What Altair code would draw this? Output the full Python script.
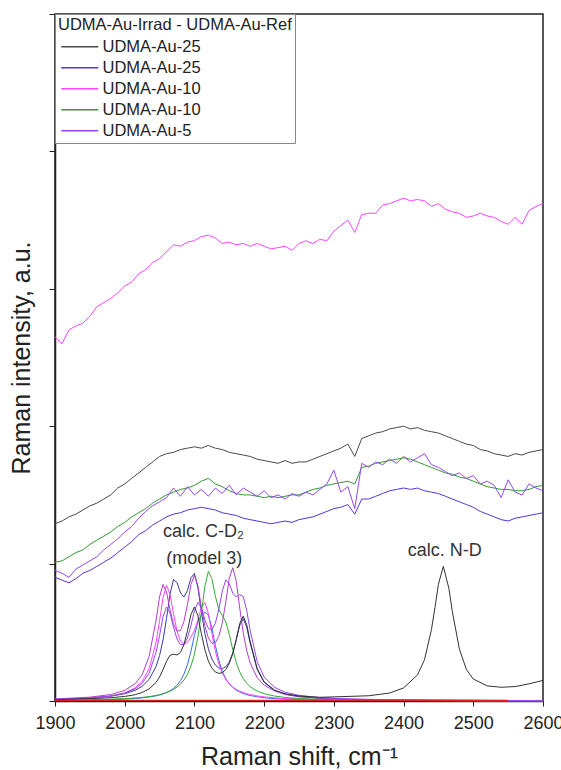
import altair as alt
import pandas as pd

# ---------------- data ----------------
wn_exp = list(range(1900, 2601, 10))

exp_black = [1.29, 1.31, 1.34, 1.36, 1.39, 1.42, 1.44, 1.47, 1.50, 1.55,
             1.58, 1.62, 1.66, 1.70, 1.74, 1.78, 1.80, 1.81, 1.83, 1.84,
             1.85, 1.84, 1.86, 1.84, 1.83, 1.81, 1.80, 1.79, 1.78, 1.76,
             1.75, 1.74, 1.73, 1.75, 1.73, 1.74, 1.74, 1.76, 1.78, 1.80,
             1.82, 1.84, 1.87, 1.78, 1.91, 1.93, 1.95, 1.96, 1.98, 1.99,
             2.00, 1.98, 1.99, 1.97, 1.96, 1.95, 1.93, 1.91, 1.89, 1.87,
             1.86, 1.83, 1.82, 1.80, 1.79, 1.78, 1.80, 1.79, 1.81, 1.82,
             1.83]
exp_blue = [0.90, 0.88, 0.86, 0.89, 0.93, 0.95, 0.98, 1.01, 1.04, 1.08,
            1.12, 1.16, 1.21, 1.24, 1.28, 1.31, 1.34, 1.36, 1.37, 1.39,
            1.40, 1.41, 1.40, 1.39, 1.37, 1.36, 1.35, 1.33, 1.32, 1.31,
            1.30, 1.29, 1.30, 1.31, 1.30, 1.32, 1.33, 1.34, 1.36, 1.38,
            1.40, 1.41, 1.43, 1.36, 1.47, 1.47, 1.49, 1.51, 1.53, 1.54,
            1.55, 1.54, 1.55, 1.53, 1.52, 1.51, 1.49, 1.47, 1.45, 1.43,
            1.41, 1.38, 1.36, 1.34, 1.32, 1.31, 1.33, 1.34, 1.35, 1.36,
            1.37]
exp_magenta = [2.65, 2.60, 2.70, 2.73, 2.75, 2.80, 2.87, 2.90, 2.93, 2.97,
               3.02, 3.05, 3.11, 3.14, 3.19, 3.22, 3.27, 3.32, 3.31, 3.34,
               3.35, 3.38, 3.39, 3.37, 3.33, 3.34, 3.32, 3.33, 3.31, 3.33,
               3.31, 3.29, 3.30, 3.31, 3.28, 3.33, 3.35, 3.33, 3.36, 3.35,
               3.42, 3.46, 3.50, 3.41, 3.54, 3.55, 3.55, 3.61, 3.62, 3.64,
               3.66, 3.64, 3.65, 3.64, 3.60, 3.62, 3.58, 3.56, 3.55, 3.52,
               3.53, 3.55, 3.53, 3.52, 3.49, 3.47, 3.52, 3.47, 3.57, 3.60,
               3.62]
exp_green = [1.01, 1.02, 1.05, 1.08, 1.10, 1.14, 1.17, 1.20, 1.23, 1.27,
             1.30, 1.34, 1.37, 1.40, 1.44, 1.47, 1.50, 1.52, 1.54, 1.55,
             1.57, 1.60, 1.62, 1.58, 1.56, 1.53, 1.51, 1.50, 1.50, 1.49,
             1.48, 1.49, 1.48, 1.49, 1.50, 1.50, 1.52, 1.54, 1.55, 1.57,
             1.58, 1.59, 1.60, 1.58, 1.70, 1.71, 1.73, 1.74, 1.75, 1.76,
             1.77, 1.76, 1.74, 1.72, 1.70, 1.68, 1.66, 1.65, 1.63, 1.62,
             1.60, 1.58, 1.56, 1.55, 1.54, 1.54, 1.53, 1.53, 1.54, 1.56,
             1.57]
exp_violet = [0.95, 0.93, 0.90, 0.96, 0.99, 1.02, 1.05, 1.10, 1.14, 1.18,
              1.23, 1.27, 1.33, 1.38, 1.42, 1.45, 1.48, 1.55, 1.49, 1.56,
              1.50, 1.54, 1.49, 1.55, 1.51, 1.57, 1.50, 1.55, 1.52, 1.49,
              1.53, 1.48, 1.50, 1.47, 1.51, 1.49, 1.52, 1.50, 1.54, 1.58,
              1.68, 1.52, 1.56, 1.40, 1.73, 1.70, 1.74, 1.72, 1.76, 1.73,
              1.78, 1.74, 1.77, 1.80, 1.72, 1.70, 1.67, 1.64, 1.66, 1.62,
              1.64, 1.58, 1.60, 1.57, 1.48, 1.61, 1.52, 1.50, 1.58, 1.55,
              1.53]

legend_keys = ["k1", "k2", "k3", "k4", "k5"]
legend_names = ["UDMA-Au-25", "UDMA-Au-25", "UDMA-Au-10", "UDMA-Au-10", "UDMA-Au-5"]
legend_colors = ["#4a4a4a", "#5533dd", "#ff44ff", "#339933", "#9347f5"]
exp_series = [exp_black, exp_blue, exp_magenta, exp_green, exp_violet]

# calculated spectra (model 3) on a common grid
wn_calc = [1900, 1950, 1980, 2000, 2015, 2025, 2035, 2045,
           2050, 2055, 2060, 2065, 2070, 2075, 2080, 2085, 2090, 2095,
           2100, 2105, 2110, 2115, 2120, 2125, 2130, 2135, 2140, 2145,
           2150, 2155, 2160, 2165, 2170, 2175, 2180,
           2190, 2200, 2215, 2230, 2250, 2280,
           2320, 2380, 2450, 2520, 2600]
calc_navy = [0.012, 0.021, 0.035, 0.053, 0.078, 0.107, 0.157, 0.251,
             0.331, 0.445, 0.601, 0.777, 0.884, 0.862, 0.787, 0.757, 0.804, 0.896,
             0.928, 0.824, 0.647, 0.490, 0.380, 0.306, 0.262, 0.240, 0.235, 0.249,
             0.285, 0.349, 0.445, 0.551, 0.599, 0.538, 0.420,
             0.230, 0.136, 0.075, 0.048, 0.031, 0.019,
             0.012, 0.007, 0.005, 0.004, 0.003]
calc_blue = [0.004, 0.007, 0.010, 0.014, 0.019, 0.023, 0.029, 0.038,
             0.044, 0.052, 0.062, 0.074, 0.091, 0.115, 0.148, 0.196, 0.265, 0.361,
             0.477, 0.575, 0.626, 0.647, 0.625, 0.531, 0.404, 0.295, 0.216, 0.162,
             0.125, 0.099, 0.079, 0.066, 0.055, 0.046, 0.040,
             0.031, 0.024, 0.017, 0.013, 0.0096, 0.006,
             0.004, 0.003, 0.002, 0.0015, 0.001]
calc_magenta = [0.010, 0.020, 0.036, 0.059, 0.096, 0.143, 0.235, 0.427,
                0.584, 0.753, 0.842, 0.777, 0.634, 0.509, 0.437, 0.414, 0.428, 0.464,
                0.514, 0.590, 0.683, 0.717, 0.636, 0.493, 0.363, 0.268, 0.203, 0.157,
                0.125, 0.102, 0.085, 0.072, 0.062, 0.054, 0.047,
                0.037, 0.030, 0.023, 0.018, 0.014, 0.009,
                0.006, 0.004, 0.003, 0.002, 0.0015]
calc_darkmagenta = [0.015, 0.028, 0.047, 0.077, 0.126, 0.191, 0.324, 0.589,
                    0.758, 0.848, 0.793, 0.664, 0.558, 0.508, 0.514, 0.580, 0.702, 0.847,
                    0.917, 0.839, 0.682, 0.545, 0.459, 0.420, 0.424, 0.471, 0.569, 0.721,
                    0.893, 0.970, 0.871, 0.676, 0.497, 0.366, 0.276,
                    0.170, 0.115, 0.073, 0.050, 0.034, 0.022,
                    0.014, 0.008, 0.006, 0.004, 0.003]
calc_green = [0.005, 0.009, 0.013, 0.017, 0.022, 0.026, 0.032, 0.040,
              0.046, 0.053, 0.061, 0.071, 0.084, 0.100, 0.123, 0.153, 0.194, 0.254,
              0.341, 0.468, 0.642, 0.835, 0.943, 0.891, 0.763, 0.667, 0.621, 0.575,
              0.485, 0.374, 0.280, 0.211, 0.164, 0.129, 0.104,
              0.072, 0.053, 0.036, 0.026, 0.018, 0.012,
              0.007, 0.004, 0.003, 0.002, 0.0015]
calc_purple = [0.012, 0.022, 0.037, 0.057, 0.089, 0.128, 0.202, 0.355,
               0.477, 0.613, 0.684, 0.641, 0.537, 0.452, 0.410, 0.412, 0.459, 0.549,
               0.658, 0.718, 0.679, 0.590, 0.528, 0.518, 0.565, 0.668, 0.800, 0.882,
               0.854, 0.785, 0.757, 0.774, 0.761, 0.659, 0.512,
               0.287, 0.175, 0.099, 0.064, 0.041, 0.025,
               0.015, 0.009, 0.006, 0.004, 0.003]
calc_series = [calc_navy, calc_blue, calc_magenta, calc_darkmagenta, calc_green, calc_purple]
calc_colors = ["#3a3aa0", "#3366ff", "#ff44ff", "#b040c8", "#33aa33", "#9347f5"]

# calculated C-D2 + N-D spectrum (black)
wn_calc_black = [1900, 1950, 1980, 2000, 2015, 2025, 2035, 2045,
                 2050, 2055, 2060, 2065, 2070, 2075, 2080, 2085, 2090, 2095,
                 2100, 2105, 2110, 2115, 2120, 2125, 2130, 2135, 2140, 2145,
                 2150, 2155, 2160, 2165, 2170, 2175, 2180,
                 2190, 2200, 2215, 2230, 2250, 2280,
                 2300, 2350, 2380, 2400, 2420, 2430, 2440, 2445, 2450, 2457,
                 2465, 2470, 2480, 2490, 2500, 2520, 2540, 2560, 2580, 2600]
calc_black = [0.010, 0.017, 0.024, 0.033, 0.046, 0.062, 0.088, 0.135,
              0.175, 0.229, 0.289, 0.333, 0.340, 0.335, 0.354, 0.411, 0.512, 0.629,
              0.685, 0.620, 0.490, 0.373, 0.291, 0.240, 0.211, 0.201, 0.206, 0.229,
              0.273, 0.345, 0.449, 0.565, 0.617, 0.556, 0.432,
              0.236, 0.139, 0.079, 0.053, 0.036, 0.027,
              0.030, 0.038, 0.058, 0.095, 0.19, 0.30, 0.52, 0.68, 0.85, 0.98,
              0.82, 0.65, 0.38, 0.23, 0.16, 0.11, 0.10, 0.105, 0.125, 0.15]

wn_base = [1900, 2550]
base_vals = [0.005, 0.005]

ann_text = ["calc. C-D\u2082", "(model 3)", "calc. N-D"]
ann_wn = [2113, 2114, 2459]
ann_val = [1.23, 1.03, 1.095]

# ---------------- tables ----------------
exp_rows = []
for key, vals in zip(legend_keys, exp_series):
    for w, v in zip(wn_exp, vals):
        exp_rows.append({"wn": w, "val": v, "series": key})
exp_df = pd.DataFrame(exp_rows)

calc_rows = []
for i, (col, vals) in enumerate(zip(calc_colors, calc_series)):
    for w, v in zip(wn_calc, vals):
        calc_rows.append({"wn": w, "val": v, "cid": f"c{i}", "col": col})
for w, v in zip(wn_calc_black, calc_black):
    calc_rows.append({"wn": w, "val": v, "cid": "cblack", "col": "#333333"})
calc_df = pd.DataFrame(calc_rows)

base_df = pd.DataFrame({"wn": wn_base, "val": base_vals})
ann_df = pd.DataFrame({"wn": ann_wn, "val": ann_val, "txt": ann_text})

FONT = "Liberation Sans"

x_scale = alt.Scale(domain=[1900, 2600], nice=False, zero=False)
y_scale = alt.Scale(domain=[0, 5], nice=False)

label_expr = " : ".join(
    [f"datum.value == '{k}' ? '{n}'" for k, n in zip(legend_keys, legend_names)]
) + " : ''"

x_axis = alt.Axis(
    title="Raman shift, cm\u207b\u00b9",
    values=list(range(1900, 2601, 50)),
    labelExpr="datum.value % 100 === 0 ? datum.label : ''",
    format="d",
    tickSize=5,
    labelFontSize=18,
    labelPadding=8,
    labelFlush=False,
    titleFontSize=25,
    titlePadding=12,
)
y_axis = alt.Axis(
    title="Raman intensity, a.u.",
    values=[0, 1, 2, 3, 4, 5],
    labels=False,
    tickSize=6,
    titleFontSize=25,
    titlePadding=14,
)

exp_layer = alt.Chart(exp_df).mark_line(strokeWidth=1).encode(
    x=alt.X("wn:Q", scale=x_scale, axis=x_axis),
    y=alt.Y("val:Q", scale=y_scale, axis=y_axis),
    color=alt.Color(
        "series:N",
        scale=alt.Scale(domain=legend_keys, range=legend_colors),
        legend=alt.Legend(
            title="UDMA-Au-Irrad - UDMA-Au-Ref",
            orient="none",
            legendX=0,
            legendY=0,
            labelExpr=label_expr,
            symbolType="M-1,0H6.4",
            symbolSize=100,
            symbolStrokeWidth=1.3,
            labelFontSize=16.5,
            titleFontSize=16.5,
            titleFontWeight="normal",
            titleLimit=400,
            labelLimit=300,
            labelOffset=28,
            padding=3,
            rowPadding=4,
            titlePadding=5,
            strokeColor="#888888",
            fillColor="white",
            labelColor="#222222",
            titleColor="#222222",
        ),
    ),
)

calc_layer = alt.Chart(calc_df).mark_line(strokeWidth=1).encode(
    x="wn:Q",
    y="val:Q",
    detail="cid:N",
    stroke=alt.Stroke("col:N", scale=None),
)

base_layer = alt.Chart(base_df).mark_line(strokeWidth=1.2, color="#e02020").encode(
    x="wn:Q",
    y="val:Q",
)

ann_layer = alt.Chart(ann_df).mark_text(
    fontSize=18, font=FONT, color="#333333", baseline="middle", align="center"
).encode(
    x="wn:Q",
    y="val:Q",
    text="txt:N",
)

chart = alt.layer(calc_layer, base_layer, exp_layer, ann_layer).properties(
    width=488,
    height=687,
    padding={"left": 55, "top": 14, "right": 18, "bottom": 69},
    autosize="none",
).configure_view(
    stroke="#222222", strokeWidth=1.5
).configure_axis(
    grid=False,
    domainColor="#222222",
    domainWidth=1.5,
    tickColor="#222222",
    labelColor="#222222",
    titleColor="#222222",
    labelFont=FONT,
    titleFont=FONT,
    titleFontWeight="normal",
).configure_legend(
    labelFont=FONT,
    titleFont=FONT,
)

chart.save("out.html", embed_options={"renderer": "svg", "actions": False})
